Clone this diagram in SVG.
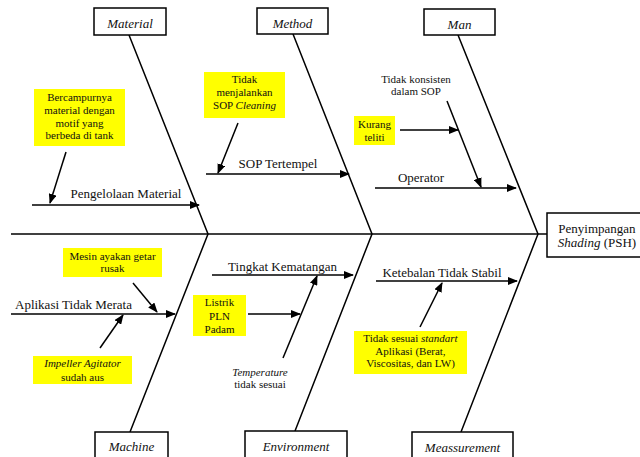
<svg xmlns="http://www.w3.org/2000/svg" width="640" height="457" viewBox="0 0 640 457">
  <style>
    text { font-family: "Liberation Serif", Tinos, "Times New Roman", "DejaVu Serif", serif; fill: #111; text-anchor: middle; }
    .cat { font-size: 13px; font-style: italic; }
    .lbl { font-size: 13px; }
    .sm { font-size: 11px; }
    .it { font-style: italic; }
    .box { fill: #fff; stroke: #000; stroke-width: 1.5; }
    .note { fill: #ffff00; stroke: none; }
    .bone { stroke: #000; stroke-width: 1.5; fill: none; }
    .arr { stroke: #000; stroke-width: 1.5; fill: none; marker-end: url(#ah); }
  </style>
  <defs>
    <marker id="ah" markerWidth="10" markerHeight="8" refX="9" refY="4" orient="auto" markerUnits="userSpaceOnUse">
      <path d="M0,0 L10,4 L0,8 Z" fill="#000"/>
    </marker>
  </defs>
  <rect width="640" height="457" fill="#fff"/>

  <!-- spine and main bones -->
  <g id="connectors">
    <line class="bone" x1="11" y1="234" x2="547" y2="234"/>
    <polyline class="bone" points="129,35 208,234 130,432"/>
    <polyline class="bone" points="293,34 372,234 295,431"/>
    <polyline class="bone" points="458,35 538,234 461,432"/>

    <!-- Material branch -->
    <line class="arr" x1="32" y1="205" x2="199" y2="205"/>
    <line class="arr" x1="66" y1="152" x2="50" y2="203"/>
    <!-- Method branch -->
    <line class="arr" x1="206" y1="174" x2="349" y2="174"/>
    <line class="arr" x1="238" y1="123" x2="218" y2="173"/>
    <!-- Man branch -->
    <line class="arr" x1="375" y1="188" x2="516" y2="188"/>
    <line class="arr" x1="400" y1="130" x2="458" y2="130"/>
    <line class="arr" x1="447" y1="101" x2="481" y2="187"/>
    <!-- Machine branch -->
    <line class="arr" x1="11" y1="314" x2="175" y2="314"/>
    <line class="arr" x1="133" y1="283" x2="157" y2="312"/>
    <line class="arr" x1="100" y1="348" x2="123" y2="315"/>
    <!-- Environment branch -->
    <line class="arr" x1="212" y1="275" x2="353" y2="275"/>
    <line class="arr" x1="248" y1="314" x2="300" y2="314"/>
    <line class="arr" x1="283" y1="358" x2="317" y2="276"/>
    <!-- Measurement branch -->
    <line class="arr" x1="376" y1="281" x2="517" y2="281"/>
    <line class="arr" x1="420" y1="327" x2="442" y2="283"/>
  </g>

  <!-- category boxes -->
  <g id="material">
    <rect class="box" x="94" y="8" width="72" height="27"/>
    <text class="cat" x="130" y="28">Material</text>
  </g>
  <g id="method">
    <rect class="box" x="257" y="8" width="71" height="26"/>
    <text class="cat" x="292.5" y="27.5">Method</text>
  </g>
  <g id="man">
    <rect class="box" x="424" y="9" width="71" height="26"/>
    <text class="cat" x="459.5" y="28.5">Man</text>
  </g>
  <g id="machine">
    <rect class="box" x="95" y="432" width="73" height="30"/>
    <text class="cat" x="131.5" y="451">Machine</text>
  </g>
  <g id="environment">
    <rect class="box" x="245" y="431" width="102" height="30"/>
    <text class="cat" x="296" y="450.5">Environment</text>
  </g>
  <g id="measurement">
    <rect class="box" x="412" y="432" width="101" height="30"/>
    <text class="cat" x="462.5" y="452">Meassurement</text>
  </g>

  <!-- effect -->
  <g id="effect">
    <rect class="box" x="547" y="213" width="96" height="44"/>
    <text class="lbl" x="597" y="232.5">Penyimpangan</text>
    <text class="lbl" x="597" y="247"><tspan class="it">Shading</tspan> (PSH)</text>
  </g>

  <!-- Material causes -->
  <g id="pengelolaan-material">
    <text class="lbl" x="126" y="197.5">Pengelolaan Material</text>
  </g>
  <g id="bercampurnya">
    <rect class="note" x="34" y="89" width="91" height="57"/>
    <text class="sm" x="79.5" y="101">Bercampurnya</text>
    <text class="sm" x="79.5" y="113.5">material dengan</text>
    <text class="sm" x="79.5" y="126.5">motif yang</text>
    <text class="sm" x="79.5" y="139">berbeda di tank</text>
  </g>

  <!-- Method causes -->
  <g id="sop-tertempel">
    <text class="lbl" x="278" y="167.5">SOP Tertempel</text>
  </g>
  <g id="sop-cleaning">
    <rect class="note" x="204" y="72" width="81" height="46"/>
    <text class="sm" x="244.5" y="83">Tidak</text>
    <text class="sm" x="244.5" y="96">menjalankan</text>
    <text class="sm" x="244.5" y="109">SOP <tspan class="it">Cleaning</tspan></text>
  </g>

  <!-- Man causes -->
  <g id="operator">
    <text class="lbl" x="421" y="181.5">Operator</text>
  </g>
  <g id="tidak-konsisten">
    <text class="sm" x="416" y="83">Tidak konsisten</text>
    <text class="sm" x="416" y="95">dalam SOP</text>
  </g>
  <g id="kurang-teliti">
    <rect class="note" x="354" y="116" width="41" height="29"/>
    <text class="sm" x="374.5" y="128">Kurang</text>
    <text class="sm" x="374.5" y="141">teliti</text>
  </g>

  <!-- Machine causes -->
  <g id="aplikasi-tidak-merata">
    <text class="lbl" x="73.5" y="308.5">Aplikasi Tidak Merata</text>
  </g>
  <g id="mesin-ayakan">
    <rect class="note" x="63" y="248" width="99" height="29"/>
    <text class="sm" x="112.5" y="260">Mesin ayakan getar</text>
    <text class="sm" x="112.5" y="272">rusak</text>
  </g>
  <g id="impeller">
    <rect class="note" x="33" y="356" width="99" height="28"/>
    <text class="sm" x="82.5" y="367"><tspan class="it">Impeller Agitator</tspan></text>
    <text class="sm" x="82.5" y="381">sudah aus</text>
  </g>

  <!-- Environment causes -->
  <g id="tingkat-kematangan">
    <text class="lbl" x="282.5" y="270.5">Tingkat Kematangan</text>
  </g>
  <g id="listrik-pln">
    <rect class="note" x="193" y="295" width="53" height="41"/>
    <text class="sm" x="219.5" y="306">Listrik</text>
    <text class="sm" x="219.5" y="320">PLN</text>
    <text class="sm" x="219.5" y="333">Padam</text>
  </g>
  <g id="temperature">
    <text class="sm" x="260" y="376"><tspan class="it">Temperature</tspan></text>
    <text class="sm" x="260" y="388">tidak sesuai</text>
  </g>

  <!-- Measurement causes -->
  <g id="ketebalan">
    <text class="lbl" x="442" y="276.5">Ketebalan Tidak Stabil</text>
  </g>
  <g id="tidak-sesuai-standart">
    <rect class="note" x="354" y="331" width="113" height="43"/>
    <text class="sm" x="410.5" y="342">Tidak sesuai <tspan class="it">standart</tspan></text>
    <text class="sm" x="410.5" y="354.5">Aplikasi (Berat,</text>
    <text class="sm" x="410.5" y="367">Viscositas, dan LW)</text>
  </g>
</svg>
